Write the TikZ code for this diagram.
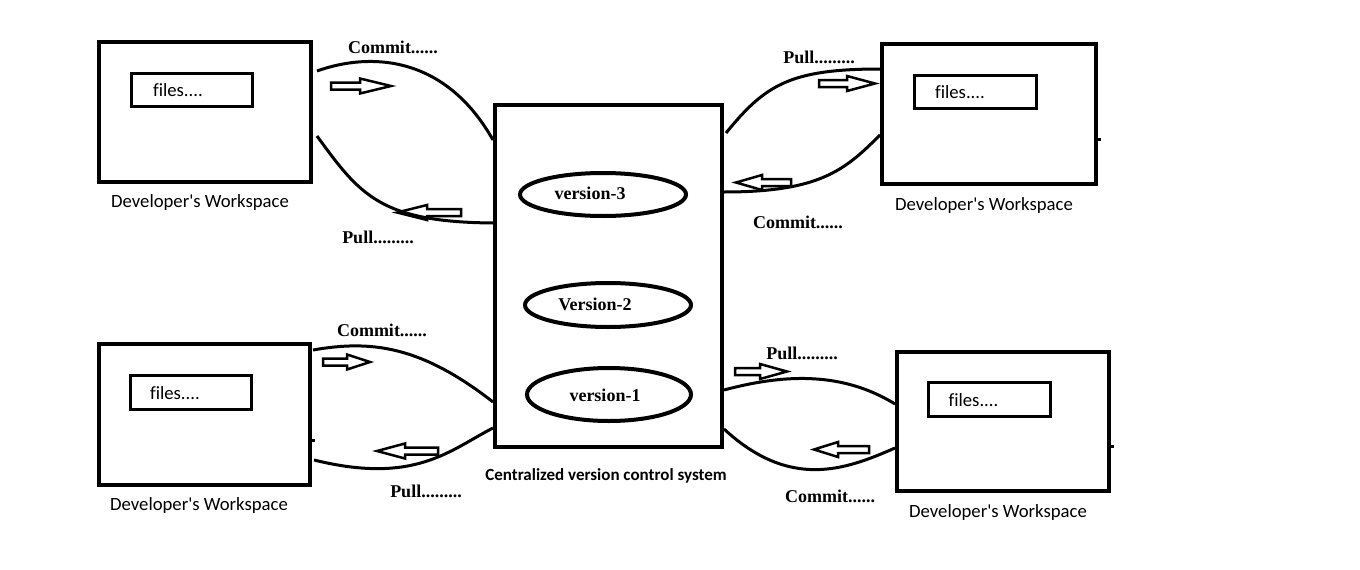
\documentclass[tikz,border=0pt]{standalone}
\usepackage{fontspec}
\setmainfont{Liberation Serif}
\newfontfamily\calib[Ligatures=NoCommon]{Carlito}
\usetikzlibrary{shapes.geometric}
\newcommand\blockarr[4]{\draw[barrow] (#1,#4-3.5) -- (#3,#4-3.5) -- (#3,#4-7.5) -- (#2,#4) -- (#3,#4+7.5) -- (#3,#4+3.5) -- (#1,#4+3.5) -- cycle;}
\begin{document}
\begin{tikzpicture}[x=1pt,y=-1pt,
  wsbox/.style={draw,line width=4pt,inner sep=0pt},
  filebox/.style={draw,line width=3pt,inner sep=0pt,minimum width=121pt,minimum height=33pt},
  verell/.style={draw,ellipse,line width=4pt,inner sep=0pt},
  lbl/.style={font=\fontsize{18}{20}\selectfont\bfseries,inner sep=0pt},
  vlbl/.style={font=\fontsize{18}{20}\selectfont\bfseries,inner sep=0pt},
  wslbl/.style={font=\calib\fontsize{18.7}{20}\selectfont,inner sep=0pt},
  ftxt/.style={font=\calib\fontsize{18.7}{20}\selectfont,inner sep=0pt},
  flow/.style={line width=3pt},
  barrow/.style={line width=2.5pt,line join=miter}
]
\useasboundingbox (0,0) rectangle (1360,570);
\fill[white] (0,0) rectangle (1360,570);

% central repository
\node[wsbox,minimum width=227pt,minimum height=342pt] (cvcs) at (608.5,276) {};
\node[font=\calib\fontsize{17}{19}\selectfont\bfseries,inner sep=0pt] (cvcsl) at (606,476) {Centralized version control system};
\node[verell,minimum width=166pt,minimum height=43pt] (v3) at (603,194.5) {};
\node[vlbl] (v3t) at (590,193) {version-3};
\node[verell,minimum width=166pt,minimum height=44pt] (v2) at (608,305) {};
\node[vlbl] (v2t) at (595,304) {Version-2};
\node[verell,minimum width=164pt,minimum height=53pt] (v1) at (609,394.5) {};
\node[vlbl] (v1t) at (605,395) {version-1};

% workspaces
\node[wsbox,minimum width=212pt,minimum height=140pt] (wtl) at (205,112) {};
\node[filebox] (ftl) at (191.5,90) {};
\node[ftxt] (ftlt) at (178,90) {files....};
\node[wslbl] (wtll) at (200,203) {Developer's Workspace};

\node[wsbox,minimum width=214pt,minimum height=140pt] (wtr) at (989,114) {};
\node[filebox,minimum width=122pt] (ftr) at (975.5,92) {};
\node[ftxt] (ftrt) at (960,92) {files....};
\node[wslbl] (wtrl) at (984,206) {Developer's Workspace};

\node[wsbox,minimum width=211pt,minimum height=141pt] (wbl) at (204.5,414.5) {};
\node[filebox,minimum height=34pt] (fbl) at (191,392.5) {};
\node[ftxt] (fblt) at (175,393) {files....};
\node[wslbl] (wbll) at (199,506) {Developer's Workspace};

\node[wsbox,minimum width=212pt,minimum height=139pt] (wbr) at (1003,421.5) {};
\node[filebox,minimum width=122pt,minimum height=34pt] (fbr) at (989.5,399.5) {};
\node[ftxt] (fbrt) at (973.5,400) {files....};
\node[wslbl] (wbrl) at (998,513) {Developer's Workspace};

% small stubs
\draw[line width=3pt] (wtr.east |- 0,139) -- ++(3,0);
\draw[line width=3pt] (wbl.east |- 0,440) -- ++(3,0);
\draw[line width=3pt] (wbr.east |- 0,446) -- ++(3,0);

% connector end points
\coordinate (a1) at (317,71);   \coordinate (a2) at (493,140);
\coordinate (b1) at (317,136);  \coordinate (b2) at (493,223);
\coordinate (c1) at (726,133);  \coordinate (c2) at (880,69);
\coordinate (d1) at (880,135);  \coordinate (d2) at (724,192);
\coordinate (e1) at (313,350);  \coordinate (e2) at (493,402);
\coordinate (f1) at (493,428);  \coordinate (f2) at (314,460);
\coordinate (g1) at (724,390);  \coordinate (g2) at (895,404);
\coordinate (h1) at (895,448);  \coordinate (h2) at (724,429);

% curves
\draw[flow] (a1) .. controls (370,52) and (445,55) .. (a2);
\draw[flow] (b1) .. controls (360,195) and (380,222) .. (b2);
\draw[flow] (c1) .. controls (765,85) and (790,69) .. (c2);
\draw[flow] (d1) .. controls (845,170) and (820,192) .. (d2);
\draw[flow] (e1) .. controls (370,340) and (420,345) .. (e2);
\draw[flow] (f1) .. controls (450,450) and (415,485) .. (f2);
\draw[flow] (g1) .. controls (780,375) and (840,370) .. (g2);
\draw[flow] (h1) .. controls (845,470) and (790,490) .. (h2);

% block arrows
\blockarr{331}{391}{360}{86}
\blockarr{461}{397}{427}{212.5}
\blockarr{819}{875}{847}{83.5}
\blockarr{791}{736}{762}{182.5}
\blockarr{323}{370}{347}{362}
\blockarr{438}{377}{405}{451}
\blockarr{735}{787}{760}{371.5}
\blockarr{869}{814}{838}{449.5}

% labels
\node[lbl] (l1) at (393,47) {Commit......};
\node[lbl] (l2) at (378,237) {Pull.........};
\node[lbl] (l3) at (819,57) {Pull.........};
\node[lbl] (l4) at (798,222) {Commit......};
\node[lbl] (l5) at (382,330) {Commit......};
\node[lbl] (l6) at (426,491) {Pull.........};
\node[lbl] (l7) at (802,353) {Pull.........};
\node[lbl] (l8) at (830,496) {Commit......};
\end{tikzpicture}
\end{document}
